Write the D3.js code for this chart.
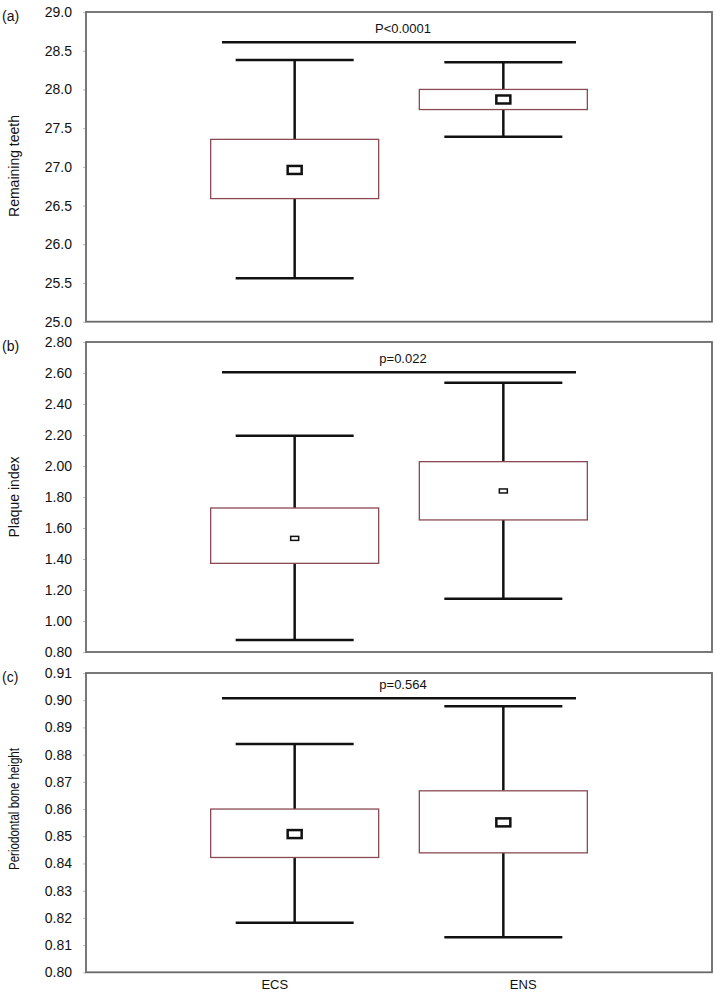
<!DOCTYPE html>
<html><head><meta charset="utf-8">
<script src="https://cdn.jsdelivr.net/npm/d3@7"></script>
<style>body{margin:0;background:#fff}svg{display:block}text{font-family:"Liberation Sans",Arial,Helvetica,sans-serif;fill:#111}</style>
</head><body><svg id="c" width="716" height="992"></svg>
<script>
const categories = ["ECS", "ENS"];
const panelLabels = ["(a)", "(b)", "(c)"];
const yTitles = ["Remaining teeth", "Plaque index", "Periodontal bone height"];
const pLabels = ["P<0.0001", "p=0.022", "p=0.564"];
const yDomains = [[25.0, 29.0], [0.80, 2.80], [0.80, 0.91]];
const tickValsA = [25.0, 25.5, 26.0, 26.5, 27.0, 27.5, 28.0, 28.5, 29.0];
const tickValsB = [0.80, 1.00, 1.20, 1.40, 1.60, 1.80, 2.00, 2.20, 2.40, 2.60, 2.80];
const tickValsC = [0.80, 0.81, 0.82, 0.83, 0.84, 0.85, 0.86, 0.87, 0.88, 0.89, 0.90, 0.91];
const tickFormats = [".1f", ".2f", ".2f"];
const sigLevels = [28.61, 2.605, 0.9007];
// per panel: [ECS, ENS]
const whiskerLow  = [[25.56, 27.39], [0.877, 1.144], [0.8182, 0.8129]];
const q1          = [[26.59, 27.74], [1.372, 1.652], [0.8422, 0.8439]];
const q3          = [[27.355, 28.00], [1.729, 2.028], [0.8600, 0.8667]];
const whiskerHigh = [[28.38, 28.35], [2.195, 2.537], [0.8839, 0.8978]];
const means       = [[26.96, 27.87], [1.533, 1.839], [0.8508, 0.8551]];

const tickVals = [tickValsA, tickValsB, tickValsC];
const svg = d3.select("#c");
const left = 86, right = 712;
const panels = [
  {top: 12, bottom: 321.7, titleY: 166, titleSize: 14, titleLen: null, markW: 14, markH: 8},
  {top: 342, bottom: 652, titleY: 497, titleSize: 14, titleLen: null, markW: 8, markH: 4},
  {top: 673, bottom: 972.3, titleY: 809, titleSize: 14, titleLen: 122, markW: 14, markH: 8}
];
const x = d3.scalePoint().domain(categories).range([left, right]).padding(1);
const xLab = d3.scalePoint().domain(categories).range([left, right]).padding(0.76);
const mid = (left + right) / 2;

panels.forEach((p, i) => {
  const y = d3.scaleLinear().domain(yDomains[i]).range([p.bottom, p.top]);
  const g = svg.append("g");
  const ax = g.append("g").attr("transform", `translate(${left},0)`)
    .call(d3.axisLeft(y).tickValues(tickVals[i]).tickFormat(d3.format(tickFormats[i])).tickSize(3).tickPadding(11));
  ax.select(".domain").remove();
  ax.selectAll(".tick line").attr("stroke", "#bbb");
  ax.selectAll(".tick text").style("font-size", "14px").attr("fill", "#111")
    .style("font-family", '"Liberation Sans",Arial,sans-serif');
  g.append("rect").attr("x", left).attr("y", p.top).attr("width", right - left).attr("height", p.bottom - p.top)
    .attr("fill", "none").attr("stroke", "#6a6a6a").attr("stroke-width", 1.8);
  g.append("text").attr("x", 2).attr("y", p.top + 9).style("font-size", "14px").text(panelLabels[i]);
  const t = g.append("text").attr("transform", `translate(19,${p.titleY}) rotate(-90)`).attr("text-anchor", "middle")
    .style("font-size", p.titleSize + "px").text(yTitles[i]);
  if (p.titleLen) t.attr("textLength", p.titleLen).attr("lengthAdjust", "spacingAndGlyphs");
  const sy = y(sigLevels[i]);
  g.append("line").attr("x1", mid - 177).attr("x2", mid + 177).attr("y1", sy).attr("y2", sy)
    .attr("stroke", "#111").attr("stroke-width", 2.5);
  g.append("text").attr("x", mid + 4).attr("y", sy - 9).attr("text-anchor", "middle").style("font-size", "13px").text(pLabels[i]);
  categories.forEach((c, j) => {
    const cx = x(c);
    g.append("line").attr("x1", cx).attr("x2", cx).attr("y1", y(whiskerHigh[i][j])).attr("y2", y(q3[i][j]))
      .attr("stroke", "#111").attr("stroke-width", 2.5);
    g.append("line").attr("x1", cx).attr("x2", cx).attr("y1", y(q1[i][j])).attr("y2", y(whiskerLow[i][j]))
      .attr("stroke", "#111").attr("stroke-width", 2.5);
    [whiskerHigh[i][j], whiskerLow[i][j]].forEach(v => {
      g.append("line").attr("x1", cx - 59).attr("x2", cx + 59).attr("y1", y(v)).attr("y2", y(v))
        .attr("stroke", "#111").attr("stroke-width", 2.5);
    });
    g.append("rect").attr("x", cx - 84).attr("width", 168).attr("y", y(q3[i][j]))
      .attr("height", y(q1[i][j]) - y(q3[i][j])).attr("fill", "#fff")
      .attr("stroke", "#8a4a55").attr("stroke-width", 1.3);
    g.append("rect").attr("x", cx - p.markW / 2).attr("y", y(means[i][j]) - p.markH / 2)
      .attr("width", p.markW).attr("height", p.markH).attr("fill", "#fff")
      .attr("stroke", "#111").attr("stroke-width", p.markH > 5 ? 2.5 : 1.5);
  });
});
categories.forEach(c => {
  svg.append("text").attr("x", xLab(c)).attr("y", 989).attr("text-anchor", "middle").style("font-size", "13px").text(c);
});
</script></body></html>
